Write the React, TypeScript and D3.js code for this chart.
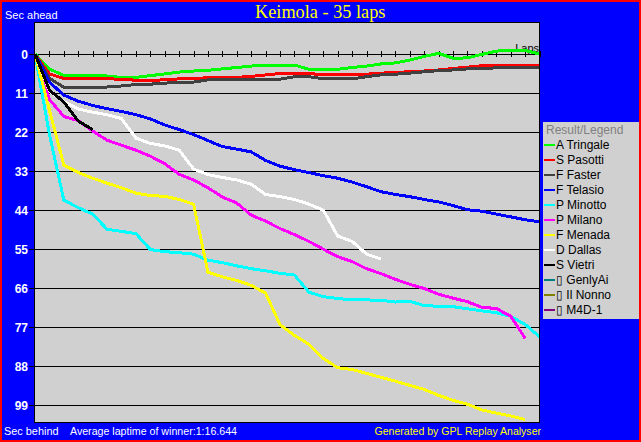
import React from "react";
import * as d3 from "d3";

const chartTitle = "Keimola - 35 laps";
const drivers = [
  "A Tringale", "S Pasotti", "F Faster", "F Telasio", "P Minotto", "P Milano",
  "F Menada", "D Dallas", "S Vietri", "\u25AF GenlyAi", "\u25AF Il Nonno", "\u25AF M4D-1",
];
const driverColors = [
  "#00FF00", "#FF0000", "#404040", "#0000FF", "#00FFFF", "#FF00FF",
  "#FFFF00", "#FFFFFF", "#000000", "#008080", "#808000", "#800080",
];

// seconds behind (positive = behind) at each lap, index = lap number
const tringale = [0, 4.2, 6.1, 6.1, 6.1, 6.2, 6.6, 6.6, 6.1, 5.6, 5.1, 4.8, 4.6, 4.2, 3.8, 3.4, 3.1, 3.1, 3.1, 4.3, 4.3, 4.3, 3.8, 3.4, 2.8, 2.5, 1.7, 0.7, -0.2, 1.2, 1.1, 0.1, -0.8, -1.1, -1.0, 0];
const pasotti = [0, 5.6, 6.9, 7.0, 7.0, 7.0, 7.1, 7.4, 7.4, 7.3, 7.0, 6.9, 6.7, 6.7, 6.6, 6.3, 5.9, 5.5, 5.5, 5.6, 5.7, 5.7, 5.7, 5.7, 5.4, 5.2, 5.0, 4.8, 4.5, 4.1, 3.7, 3.3, 3.3, 3.3, 3.3, 3.3];
const faster = [0, 6.8, 9.4, 9.5, 9.5, 9.3, 9.0, 8.6, 8.5, 8.2, 8.0, 7.9, 7.3, 7.1, 7.1, 7.1, 7.1, 7.1, 6.4, 6.4, 7.0, 7.0, 7.0, 6.4, 5.9, 5.7, 5.4, 5.0, 4.7, 4.5, 4.2, 4.1, 3.9, 3.9, 3.9, 3.9];
const telasio = [0, 7.9, 11.6, 13.3, 14.5, 15.4, 16.2, 17.1, 18.3, 20.0, 21.3, 22.7, 24.4, 26.1, 26.8, 27.6, 30.0, 31.6, 32.6, 33.4, 34.3, 35.0, 36.1, 37.4, 38.8, 39.6, 40.2, 41.0, 41.7, 42.7, 43.9, 44.3, 45.1, 45.9, 46.7, 47.3];
const minotto = [0, 22.6, 41.2, 43.3, 45.1, 49.4, 50.0, 50.6, 55.1, 55.7, 56.0, 56.4, 58.1, 58.8, 59.7, 60.5, 61.1, 61.8, 62.3, 67.1, 68.4, 68.9, 69.3, 69.3, 69.4, 69.9, 69.7, 70.9, 71.1, 71.2, 71.8, 72.4, 72.9, 73.9, 76.2, 79.7];
const milano = [0, 12.8, 17.6, 18.8, 21.7, 24.3, 25.7, 27.1, 28.8, 30.9, 33.9, 35.5, 37.7, 40.3, 42.0, 45.4, 47.1, 49.2, 50.9, 52.8, 55.0, 57.1, 58.5, 60.5, 61.9, 63.5, 64.9, 66.1, 67.7, 68.8, 69.8, 71.4, 71.7, 73.9, 80.1];
const menada = [0, 15.8, 31.3, 33.4, 35.0, 36.4, 37.7, 39.2, 39.9, 40.1, 41.0, 42.3, 61.5, 62.8, 63.8, 65.2, 67.4, 76.3, 79.3, 81.8, 85.8, 88.4, 88.9, 90.0, 91.1, 92.2, 93.4, 94.5, 96.2, 97.6, 98.7, 100.3, 101.2, 102.0, 103.0];
const dallas = [0, 10.4, 13.4, 15.5, 16.4, 17.1, 18.2, 23.7, 25.2, 25.9, 27.1, 32.4, 34.0, 34.8, 35.5, 36.7, 39.6, 40.2, 41.0, 42.3, 44.0, 51.3, 52.8, 56.4, 57.8];
const vietri = [0, 10.2, 13.5, 18.9, 21.3];
const genlyAi: number[] = [];
const ilNonno: number[] = [];
const m4d1: number[] = [];
const seriesValues = [tringale, pasotti, faster, telasio, minotto, milano, menada, dallas, vietri, genlyAi, ilNonno, m4d1];

const yTickValues = [0, 11, 22, 33, 44, 55, 66, 77, 88, 99];
const lapTickValues = d3.range(1, 36);

const sans = "'Liberation Sans', Arial, sans-serif";

export default function App() {
  const W = 641;
  const H = 442;
  const plot = { left: 34, top: 22, right: 540, bottom: 423 };
  const x = d3.scaleLinear().domain([0, 35]).range([35, 539.5]);
  const y = d3.scaleLinear().domain([0, 99]).range([54, 405.3]);
  const line = d3
    .line<number>()
    .x((_, i) => x(i))
    .y((d) => y(d));

  const legendX = 543;
  const legendY = 122;
  const legendW = 96;
  const legendH = 197;

  return (
    <svg
      width={W}
      height={H}
      style={{ position: "absolute", left: 0, top: 0, display: "block" }}
    >
      <rect x={0} y={0} width={W} height={H} fill="#FF0000" />
      <rect x={2} y={2} width={W - 4} height={H - 4} fill="#0000FF" />
      <text
        x={255}
        y={18.3}
        fill="#FFFF00"
        fontFamily="'Liberation Serif', 'Times New Roman', serif"
        fontSize={19.5}
        textLength={130.5}
        lengthAdjust="spacingAndGlyphs"
      >
        {chartTitle}
      </text>
      <text x={5} y={18.5} fill="#FFFFFF" fontFamily={sans} fontSize={11}>
        Sec ahead
      </text>

      <defs>
        <clipPath id="plotClip">
          <rect x={plot.left} y={plot.top} width={plot.right - plot.left} height={plot.bottom - plot.top} />
        </clipPath>
      </defs>
      <rect
        x={plot.left}
        y={plot.top}
        width={plot.right - plot.left}
        height={plot.bottom - plot.top}
        fill="#D0D0D0"
      />
      {yTickValues.map((v) => (
        <g key={v}>
          <line
            x1={29}
            x2={plot.right}
            y1={Math.round(y(v)) + 0.5}
            y2={Math.round(y(v)) + 0.5}
            stroke="#000"
            strokeWidth={1}
            shapeRendering="crispEdges"
          />
          <text
            x={28}
            y={y(v) + 4.5}
            textAnchor="end"
            fill="#FFFFFF"
            fontFamily={sans}
            fontWeight="bold"
            fontSize={12}
          >
            {v}
          </text>
        </g>
      ))}
      {lapTickValues.map((l) => (
        <line
          key={l}
          x1={Math.round(x(l)) + 0.5}
          x2={Math.round(x(l)) + 0.5}
          y1={51}
          y2={57}
          stroke="#000"
          strokeWidth={1}
          shapeRendering="crispEdges"
        />
      ))}
      <text x={539} y={51.5} textAnchor="end" fill="#000" fontFamily={sans} fontSize={11}>
        Laps
      </text>
      <g clipPath="url(#plotClip)">
        {seriesValues.map((vals, i) =>
          vals.length > 1 ? (
            <path
              key={i}
              d={line(vals) || ""}
              fill="none"
              stroke={driverColors[i]}
              strokeWidth={3}
              strokeLinejoin="round"
              shapeRendering="crispEdges"
            />
          ) : null
        )}
      </g>
      <rect
        x={plot.left + 0.5}
        y={plot.top + 0.5}
        width={plot.right - plot.left - 1}
        height={plot.bottom - plot.top - 1}
        fill="none"
        stroke="#000"
        strokeWidth={1}
        shapeRendering="crispEdges"
      />

      <rect x={legendX} y={legendY} width={legendW} height={legendH} fill="#D0D0D0" />
      <text x={546} y={133.5} fill="#808080" fontFamily={sans} fontSize={12}>
        Result/Legend
      </text>
      {drivers.map((name, i) => {
        const cy = 144.5 + i * 15;
        return (
          <g key={name}>
            <line
              x1={544}
              x2={555}
              y1={cy}
              y2={cy}
              stroke={driverColors[i]}
              strokeWidth={2}
              shapeRendering="crispEdges"
            />
            <text x={556} y={cy + 4.5} fill="#000" fontFamily={sans} fontSize={12}>
              {name}
            </text>
          </g>
        );
      })}

      <text x={4} y={435} fill="#FFFFFF" fontFamily={sans} fontSize={11} textLength={54.5} lengthAdjust="spacingAndGlyphs">
        Sec behind
      </text>
      <text x={70} y={435} fill="#FFFFFF" fontFamily={sans} fontSize={11} textLength={167} lengthAdjust="spacingAndGlyphs">
        Average laptime of winner:1:16.644
      </text>
      <text x={374.5} y={435} fill="#FFFF00" fontFamily={sans} fontSize={11} textLength={166.5} lengthAdjust="spacingAndGlyphs">
        Generated by GPL Replay Analyser
      </text>
    </svg>
  );
}
